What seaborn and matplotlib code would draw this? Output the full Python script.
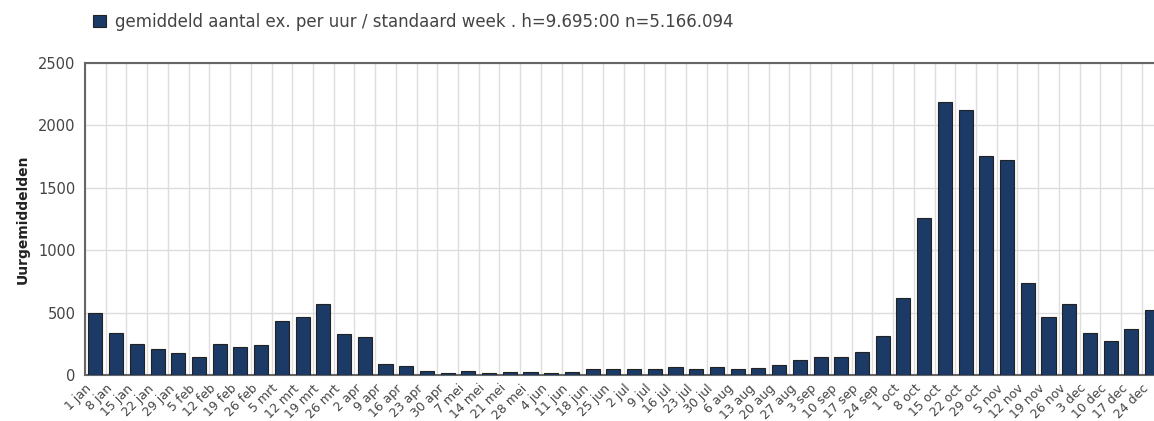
import matplotlib
matplotlib.use("Agg")
import matplotlib.pyplot as plt
import seaborn as sns
import pandas as pd
from matplotlib.patches import Patch

# weekly labels (standard week start dates)
weeks = ["1 jan", "8 jan", "15 jan", "22 jan", "29 jan", "5 feb", "12 feb", "19 feb",
         "26 feb", "5 mrt", "12 mrt", "19 mrt", "26 mrt", "2 apr", "9 apr", "16 apr",
         "23 apr", "30 apr", "7 mei", "14 mei", "21 mei", "28 mei", "4 jun", "11 jun",
         "18 jun", "25 jun", "2 jul", "9 jul", "16 jul", "23 jul", "30 jul", "6 aug",
         "13 aug", "20 aug", "27 aug", "3 sep", "10 sep", "17 sep", "24 sep", "1 oct",
         "8 oct", "15 oct", "22 oct", "29 oct", "5 nov", "12 nov", "19 nov", "26 nov",
         "3 dec", "10 dec", "17 dec", "24 dec"]

# average copies per hour
avg_per_hour = [495, 340, 249, 209, 174, 147, 249, 227, 238, 430, 468, 570, 326, 307,
                86, 72, 35, 19, 35, 19, 21, 21, 19, 21, 51, 51, 51, 51, 61, 51, 61, 51,
                57, 83, 120, 147, 147, 187, 315, 615, 1257, 2184, 2120, 1757, 1719, 741,
                468, 570, 340, 276, 366, 521]

legend_text = "gemiddeld aantal ex. per uur / standaard week . h=9.695:00 n=5.166.094"

df = pd.DataFrame({"week": weeks, "value": avg_per_hour})

sns.set_style("white")
plt.rcParams["font.family"] = ["DejaVu Sans"]

bar_color = "#1b3a66"
text_color = "#444444"

fig = plt.figure(figsize=(11.54, 4.21), dpi=100)
ax = fig.add_axes([0.0737, 0.1093, 0.9336, 0.7411])

sns.barplot(data=df, x="week", y="value", color=bar_color, saturation=1,
            width=0.68, edgecolor="#222222", linewidth=0.8, ax=ax, zorder=3)

ax.set_xlim(-0.5, len(weeks) - 0.5)
ax.set_ylim(0, 2500)
ax.set_yticks(range(0, 2501, 500))
ax.set_xticks([i - 0.5 for i in range(len(weeks))])
ax.set_xticklabels(weeks, rotation=45, ha="right", rotation_mode="anchor",
                   fontsize=9, color=text_color)
ax.tick_params(axis="y", labelsize=10.5, colors=text_color, length=5, width=1,
               color="#666666", pad=2)
ax.tick_params(axis="x", length=4, width=1, color="#666666", pad=1)

ax.grid(True, color="#dddddd", linewidth=1, zorder=0)
ax.set_axisbelow(True)

for side in ["left", "top", "bottom"]:
    ax.spines[side].set_color("#666666")
    ax.spines[side].set_linewidth(1.5)
ax.spines["right"].set_visible(False)

ax.set_xlabel("")
ax.set_ylabel("Uurgemiddelden", fontsize=10, fontweight="bold", color="#222222",
              labelpad=6)

handle = Patch(facecolor=bar_color, edgecolor="#222222", linewidth=0.8)
fig.legend(handles=[handle], labels=[legend_text], loc="upper left",
           bbox_to_anchor=(0.068, 1.005), frameon=False, handlelength=0.75,
           handleheight=0.75, handletextpad=0.55, fontsize=12,
           labelcolor=text_color)

fig.savefig("out.png", dpi=100)
